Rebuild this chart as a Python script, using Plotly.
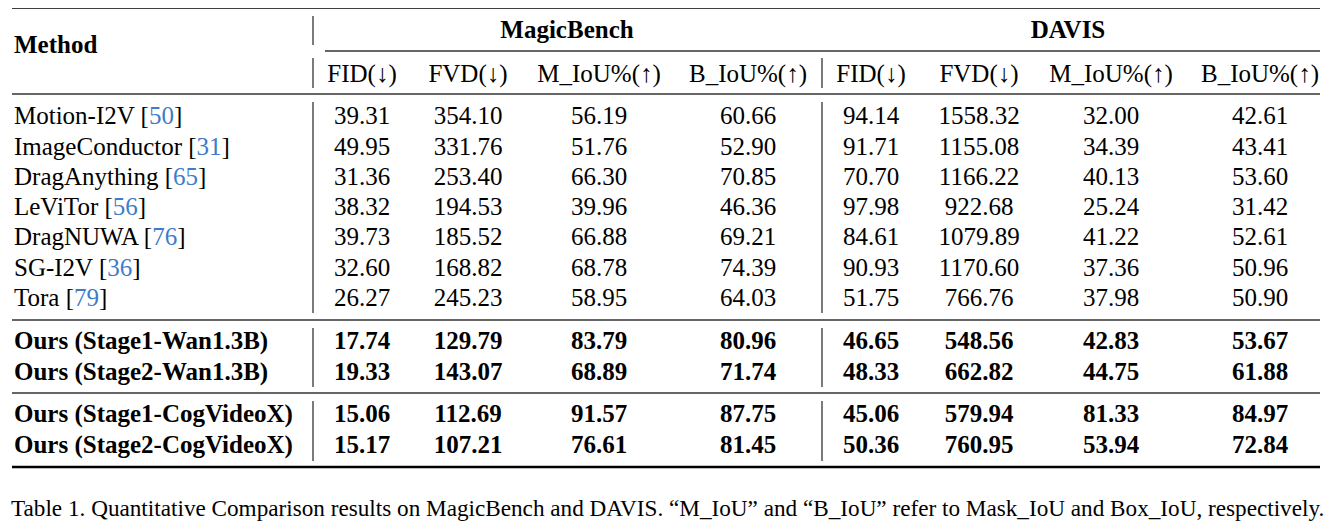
import plotly.graph_objects as go

# table contents
methods = ["Motion-I2V", "ImageConductor", "DragAnything", "LeViTor", "DragNUWA", "SG-I2V", "Tora",
           "Ours (Stage1-Wan1.3B)", "Ours (Stage2-Wan1.3B)",
           "Ours (Stage1-CogVideoX)", "Ours (Stage2-CogVideoX)"]
refs = ["50", "31", "65", "56", "76", "36", "79", "", "", "", ""]
is_ours = [False] * 7 + [True] * 4

mb_fid = [39.31, 49.95, 31.36, 38.32, 39.73, 32.60, 26.27, 17.74, 19.33, 15.06, 15.17]
mb_fvd = [354.10, 331.76, 253.40, 194.53, 185.52, 168.82, 245.23, 129.79, 143.07, 112.69, 107.21]
mb_miou = [56.19, 51.76, 66.30, 39.96, 66.88, 68.78, 58.95, 83.79, 68.89, 91.57, 76.61]
mb_biou = [60.66, 52.90, 70.85, 46.36, 69.21, 74.39, 64.03, 80.96, 71.74, 87.75, 81.45]
dv_fid = [94.14, 91.71, 70.70, 97.98, 84.61, 90.93, 51.75, 46.65, 48.33, 45.06, 50.36]
dv_fvd = [1558.32, 1155.08, 1166.22, 922.68, 1079.89, 1170.60, 766.76, 548.56, 662.82, 579.94, 760.95]
dv_miou = [32.00, 34.39, 40.13, 25.24, 41.22, 37.36, 37.98, 42.83, 44.75, 81.33, 53.94]
dv_biou = [42.61, 43.41, 53.60, 31.42, 52.61, 50.96, 50.90, 53.67, 61.88, 84.97, 72.84]

metric_labels = ["FID(↓)", "FVD(↓)", "M_IoU%(↑)", "B_IoU%(↑)"]
benchmarks = ["MagicBench", "DAVIS"]
caption = ("Table 1. Quantitative Comparison results on MagicBench and DAVIS. "
           "“M_IoU” and “B_IoU” refer to Mask_IoU and Box_IoU, respectively.")

# layout (page pixel positions; the page body has an 8px margin)
W, H = 1338, 524
PAD = 8
FONT = "Liberation Serif"
FS = 25
cite_color = "#3d7cc9"
col_x = [362, 468, 599, 748, 871, 979, 1111, 1260]
bench_x = [567, 1068]
row_y = [118.0, 148.3, 178.6, 208.9, 239.2, 269.5, 299.8, 343.0, 373.5, 415.5, 446.5]
header_y = 75.5
bench_y = 31.5
method_y = 46.5
left_x = 14
x_end = 1320

columns = [mb_fid, mb_fvd, mb_miou, mb_biou, dv_fid, dv_fvd, dv_miou, dv_biou]

fig = go.Figure()

# method names
labels = []
for name, ref, bold in zip(methods, refs, is_ours):
    if bold:
        labels.append(f"<b>{name}</b>")
    else:
        labels.append(f"{name} [<span style='color:{cite_color}'>{ref}</span>]")
fig.add_trace(go.Scatter(x=[left_x] * len(methods), y=row_y, mode="text", text=labels,
                         textposition="middle right", hoverinfo="skip",
                         textfont=dict(family=FONT, size=FS, color="black")))

# numeric cells
for cx, vals in zip(col_x, columns):
    txt = [f"<b>{v:.2f}</b>" if b else f"{v:.2f}" for v, b in zip(vals, is_ours)]
    fig.add_trace(go.Scatter(x=[cx] * len(vals), y=row_y, mode="text", text=txt,
                             textposition="middle center", hoverinfo="skip",
                             textfont=dict(family=FONT, size=FS, color="black")))

# headers
fig.add_trace(go.Scatter(x=col_x, y=[header_y] * len(col_x), mode="text",
                         text=metric_labels * 2, textposition="middle center",
                         hoverinfo="skip", textfont=dict(family=FONT, size=FS, color="black")))
fig.add_trace(go.Scatter(x=bench_x, y=[bench_y] * 2, mode="text",
                         text=[f"<b>{b}</b>" for b in benchmarks], textposition="middle center",
                         hoverinfo="skip", textfont=dict(family=FONT, size=FS, color="black")))
fig.add_trace(go.Scatter(x=[left_x], y=[method_y], mode="text", text=["<b>Method</b>"],
                         textposition="middle right", hoverinfo="skip",
                         textfont=dict(family=FONT, size=FS, color="black")))

# rules
def hline(y, x0, width, color):
    fig.add_shape(type="line", x0=x0, x1=x_end, y0=y, y1=y, xref="x", yref="y",
                  line=dict(color=color, width=width))

hline(7.5, 12, 2.6, "black")
hline(51, 325, 1.4, "#333333")
hline(94, 12, 1.6, "#333333")
hline(320, 12, 1.6, "#333333")
hline(393, 12, 1.6, "#333333")
hline(467, 12, 2.6, "black")

def vline(x, y0, y1):
    fig.add_shape(type="line", x0=x, x1=x, y0=y0, y1=y1, xref="x", yref="y",
                  line=dict(color="#222222", width=1.2))

for seg in [(16, 45), (58, 88), (102, 313), (328, 387), (401, 461)]:
    vline(313, *seg)
for seg in [(58, 88), (102, 313), (328, 387), (401, 461)]:
    vline(822, *seg)

fig.add_annotation(x=9, y=508, xref="x", yref="y", text=caption, showarrow=False,
                   xanchor="left", yanchor="middle",
                   font=dict(family=FONT, size=23.2, color="black"))

# axes map directly to page pixels, offset by the body margin
fig.update_xaxes(range=[PAD, W], visible=False, fixedrange=True)
fig.update_yaxes(range=[H, PAD], visible=False, fixedrange=True)
fig.update_layout(width=W - PAD, height=H - PAD, margin=dict(l=0, r=0, t=0, b=0),
                  plot_bgcolor="white", paper_bgcolor="white", showlegend=False)

fig.write_html("out.html")
